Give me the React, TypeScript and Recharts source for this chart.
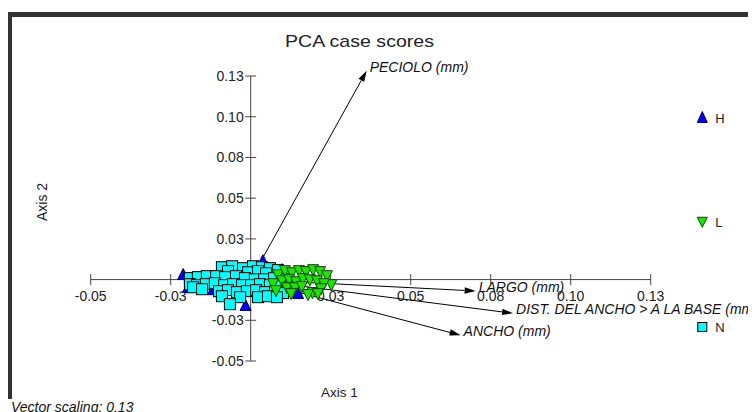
import React from 'react';
import { ScatterChart, Scatter, XAxis, YAxis, ReferenceLine } from 'recharts';

const FONT = '"Liberation Sans", Arial, Helvetica, sans-serif';

// Axis ticks (values and printed labels)
const xTickValues = [-0.05, -0.025, 0.025, 0.05, 0.075, 0.1, 0.125];
const xTickLabels = ['-0.05', '-0.03', '0.03', '0.05', '0.08', '0.10', '0.13'];
const yTickValues = [-0.05, -0.025, 0.025, 0.05, 0.075, 0.1, 0.125];
const yTickLabels = ['-0.05', '-0.03', '0.03', '0.05', '0.08', '0.10', '0.13'];
const axisMin = -0.05;
const axisMax = 0.125;

// Group H (blue triangles)
const groupH = [
  { x: -0.0211, y: 0.0028 },
  { x: -0.0196, y: -0.0052 },
  { x: -0.0118, y: -0.0065 },
  { x: -0.004, y: -0.0077 },
  { x: -0.0016, y: -0.0162 },
  { x: 0.0038, y: 0.0113 },
  { x: 0.0098, y: 0.0058 },
  { x: 0.0148, y: -0.0088 },
  { x: 0.0035, y: -0.0077 },
];

// Group L (green inverted triangles)
const groupL = [
  { x: 0.0085, y: 0.0033 },
  { x: 0.0107, y: 0.0058 },
  { x: 0.0129, y: 0.0045 },
  { x: 0.0151, y: 0.0058 },
  { x: 0.0173, y: 0.0052 },
  { x: 0.0195, y: 0.0064 },
  { x: 0.0217, y: 0.0052 },
  { x: 0.0238, y: 0.0027 },
  { x: 0.0252, y: -0.0028 },
  { x: 0.0098, y: -0.0004 },
  { x: 0.012, y: 0.0002 },
  { x: 0.0142, y: -0.001 },
  { x: 0.0163, y: 0.0009 },
  { x: 0.0185, y: 0.0002 },
  { x: 0.0207, y: -0.0004 },
  { x: 0.0229, y: -0.0022 },
  { x: 0.0113, y: -0.0047 },
  { x: 0.0138, y: -0.0047 },
  { x: 0.016, y: -0.004 },
  { x: 0.0193, y: -0.0077 },
  { x: 0.022, y: -0.0053 },
  { x: 0.0126, y: -0.0083 },
  { x: 0.0179, y: -0.0089 },
  { x: 0.021, y: -0.0083 },
  { x: 0.007, y: -0.0022 },
  { x: 0.0079, y: -0.0065 },
];

// Group N (cyan squares)
const groupN = [
  { x: -0.009, y: 0.0076 },
  { x: -0.0058, y: 0.0082 },
  { x: -0.0024, y: 0.007 },
  { x: 0.0007, y: 0.0082 },
  { x: 0.0035, y: 0.0076 },
  { x: 0.006, y: 0.007 },
  { x: 0.0085, y: 0.0058 },
  { x: -0.0071, y: 0.0052 },
  { x: -0.0008, y: 0.0045 },
  { x: 0.0023, y: 0.0052 },
  { x: 0.0048, y: 0.0039 },
  { x: -0.019, y: 0.0009 },
  { x: -0.0165, y: 0.0015 },
  { x: -0.0137, y: 0.0021 },
  { x: -0.0108, y: 0.0021 },
  { x: -0.008, y: 0.0015 },
  { x: -0.0046, y: 0.0021 },
  { x: -0.0018, y: 0.0009 },
  { x: 0.0013, y: 0.0002 },
  { x: 0.0042, y: 0.0002 },
  { x: 0.0073, y: 0.0009 },
  { x: 0.0104, y: 0.0002 },
  { x: -0.019, y: -0.0028 },
  { x: -0.0168, y: -0.0034 },
  { x: -0.014, y: -0.0028 },
  { x: -0.0112, y: -0.0022 },
  { x: -0.0083, y: -0.0034 },
  { x: -0.0055, y: -0.0028 },
  { x: -0.0027, y: -0.0034 },
  { x: 0.0001, y: -0.0034 },
  { x: 0.0029, y: -0.0028 },
  { x: 0.006, y: -0.0034 },
  { x: 0.0088, y: -0.0028 },
  { x: 0.0117, y: -0.0047 },
  { x: -0.018, y: -0.0047 },
  { x: -0.0152, y: -0.0059 },
  { x: -0.0099, y: -0.0071 },
  { x: -0.0071, y: -0.0065 },
  { x: -0.0043, y: -0.0077 },
  { x: -0.0012, y: -0.0071 },
  { x: 0.0017, y: -0.0065 },
  { x: 0.0045, y: -0.0077 },
  { x: 0.0076, y: -0.0071 },
  { x: 0.0101, y: -0.0083 },
  { x: -0.009, y: -0.0102 },
  { x: -0.0033, y: -0.0108 },
  { x: 0.0023, y: -0.0108 },
  { x: 0.0054, y: -0.0102 },
  { x: 0.0082, y: -0.0108 },
  { x: -0.0065, y: -0.0151 },
];

// Variable loading vectors
const vectorNames = ['PECIOLO (mm)', 'LARGO (mm)', 'DIST. DEL ANCHO > A LA BASE (mm)', 'ANCHO (mm)'];
const vectorX = [0.03625, 0.0703, 0.082, 0.0656];
const vectorY = [0.1283, -0.007, -0.0207, -0.0342];

// Legend
const legendNames = ['H', 'L', 'N'];

const COLORS = {
  H: { fill: '#0000FF', stroke: '#000060' },
  L: { fill: '#22E000', stroke: '#005000' },
  N: { fill: '#00FFFF', stroke: '#000000' },
};

const UpTri = (p: any) => {
  const { cx, cy } = p;
  return (
    <polygon
      points={`${cx},${cy - 6.5} ${cx + 5.5},${cy + 4.5} ${cx - 5.5},${cy + 4.5}`}
      fill={COLORS.H.fill}
      stroke={COLORS.H.stroke}
      strokeWidth={1}
    />
  );
};

const DownTri = (p: any) => {
  const { cx, cy } = p;
  return (
    <polygon
      points={`${cx - 5.5},${cy - 4.5} ${cx + 5.5},${cy - 4.5} ${cx},${cy + 6.5}`}
      fill={COLORS.L.fill}
      stroke={COLORS.L.stroke}
      strokeWidth={1}
    />
  );
};

const Square = (p: any) => {
  const { cx, cy } = p;
  return (
    <rect x={cx - 5.5} y={cy - 5.5} width={11} height={11} fill={COLORS.N.fill} stroke={COLORS.N.stroke} strokeWidth={1} />
  );
};

const NoShape = () => <g />;

const XTickLabel = (p: any) => {
  const label = p.payload?.label ?? p.label;
  return (
    <text x={p.cx} y={p.cy + 21} textAnchor="middle" fontSize={14} fill="#222" fontFamily={FONT}>
      {label}
    </text>
  );
};

const YTickLabel = (p: any) => {
  const label = p.payload?.label ?? p.label;
  return (
    <text x={p.cx - 7} y={p.cy + 5} textAnchor="end" fontSize={14} fill="#222" fontFamily={FONT}>
      {label}
    </text>
  );
};

const makeVector = (name: string) => (p: any) => {
  const pts = p.points;
  if (!pts || pts.length < 2) return <g />;
  const a = pts[0];
  const b = pts[1];
  const ang = Math.atan2(b.y - a.y, b.x - a.x);
  const L = 11;
  const W = 3.2;
  const bx = b.x - L * Math.cos(ang);
  const by = b.y - L * Math.sin(ang);
  const nx = -Math.sin(ang) * W;
  const ny = Math.cos(ang) * W;
  return (
    <g>
      <line x1={a.x} y1={a.y} x2={bx} y2={by} stroke="#000" strokeWidth={1} />
      <polygon points={`${b.x},${b.y} ${bx + nx},${by + ny} ${bx - nx},${by - ny}`} fill="#000" />
      <text x={b.x + 3} y={b.y + 1} fontSize={14} fontStyle="italic" fill="#111" fontFamily={FONT}>
        {name}
      </text>
    </g>
  );
};

const xTickData = xTickValues.map((v, i) => ({ x: v, y: 0, label: xTickLabels[i] }));
const yTickData = yTickValues.map((v, i) => ({ x: 0, y: v, label: yTickLabels[i] }));
const vectorData = vectorNames.map((n, i) => [
  { x: 0, y: 0 },
  { x: vectorX[i], y: vectorY[i] },
]);

const TICK_DY = 0.0034;
const TICK_DX = 0.0017;
const AXIS_COLOR = '#444';

export default function App() {
  return (
    <div style={{ position: 'relative', width: 748, height: 404, fontFamily: FONT }}>
      <ScatterChart width={748} height={404} margin={{ top: 43.6, right: 57.3, bottom: 34.7, left: 50.7 }}>
        <XAxis type="number" dataKey="x" domain={[-0.06, 0.14]} hide />
        <YAxis type="number" dataKey="y" domain={[-0.06, 0.14]} hide />
        <ReferenceLine
          segment={[
            { x: axisMin, y: 0 },
            { x: axisMax, y: 0 },
          ]}
          stroke={AXIS_COLOR}
          strokeWidth={1}
        />
        <ReferenceLine
          segment={[
            { x: 0, y: axisMin },
            { x: 0, y: axisMax },
          ]}
          stroke={AXIS_COLOR}
          strokeWidth={1}
        />
        {xTickValues.map((v) => (
          <ReferenceLine
            key={'xt' + v}
            segment={[
              { x: v, y: -TICK_DY },
              { x: v, y: TICK_DY },
            ]}
            stroke={AXIS_COLOR}
            strokeWidth={1}
          />
        ))}
        {yTickValues.map((v) => (
          <ReferenceLine
            key={'yt' + v}
            segment={[
              { x: -TICK_DX, y: v },
              { x: TICK_DX, y: v },
            ]}
            stroke={AXIS_COLOR}
            strokeWidth={1}
          />
        ))}
        <Scatter data={xTickData} shape={XTickLabel} isAnimationActive={false} />
        <Scatter data={yTickData} shape={YTickLabel} isAnimationActive={false} />
        {vectorData.map((d, i) => (
          <Scatter
            key={'v' + i}
            data={d}
            shape={NoShape}
            line={makeVector(vectorNames[i])}
            isAnimationActive={false}
          />
        ))}
        <Scatter name="H" data={groupH} shape={UpTri} isAnimationActive={false} />
        <Scatter name="N" data={groupN} shape={Square} isAnimationActive={false} />
        <Scatter name="L" data={groupL} shape={DownTri} isAnimationActive={false} />
      </ScatterChart>

      <svg
        width={748}
        height={404}
        style={{ position: 'absolute', left: 0, top: 0, overflow: 'visible', pointerEvents: 'none' }}
      >
        <text x={351.5} y={38.7} textAnchor="middle" fontSize={17} fill="#222" fontFamily={FONT} textLength={149} lengthAdjust="spacingAndGlyphs">
          PCA case scores
        </text>
        <text x={331.5} y={388.5} textAnchor="middle" fontSize={13.5} fill="#222" fontFamily={FONT}>
          Axis 1
        </text>
        <text
          x={33.5}
          y={194}
          textAnchor="middle"
          fontSize={14}
          fill="#222"
          fontFamily={FONT}
          transform={`rotate(-90, 33.5, 194)`}
          dy={5}
        >
          Axis 2
        </text>
        <text x={3} y={404} fontSize={14} fontStyle="italic" fill="#111" fontFamily={FONT}>
          Vector scaling: 0.13
        </text>
        {legendNames.map((n, i) => {
          const cy = 109.5 + i * 104.75;
          const cx = 694.3;
          let marker;
          if (n === 'H') {
            marker = (
              <polygon
                points={`${cx},${cy - 6} ${cx + 5},${cy + 5} ${cx - 5},${cy + 5}`}
                fill={COLORS.H.fill}
                stroke={COLORS.H.stroke}
              />
            );
          } else if (n === 'L') {
            marker = (
              <polygon
                points={`${cx - 5},${cy - 5} ${cx + 5},${cy - 5} ${cx},${cy + 5}`}
                fill={COLORS.L.fill}
                stroke={COLORS.L.stroke}
              />
            );
          } else {
            marker = <rect x={cx - 4.5} y={cy - 4.5} width={9} height={9} fill={COLORS.N.fill} stroke="#000" />;
          }
          return (
            <g key={n}>
              {marker}
              <text x={cx + 13} y={cy + 5} fontSize={13} fill="#222" fontFamily={FONT}>
                {n}
              </text>
            </g>
          );
        })}
      </svg>

      <div style={{ position: 'absolute', left: -1, top: 4, width: 749, height: 4.5, background: '#333' }} />
      <div style={{ position: 'absolute', left: -1, top: 4, width: 4.5, height: 387, background: '#333' }} />
    </div>
  );
}
